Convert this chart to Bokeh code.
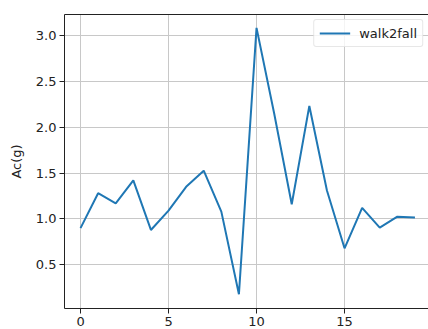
from bokeh.plotting import figure
from bokeh.models import Range1d, FixedTicker, Legend, LegendItem, NumeralTickFormatter, LinearAxis
from bokeh.embed import file_html
from bokeh.resources import INLINE

x_vals = list(range(20))
walk2fall = [0.90, 1.28, 1.17, 1.42, 0.88, 1.09, 1.35, 1.525, 1.08, 0.18,
             3.08, 2.15, 1.16, 2.23, 1.31, 0.68, 1.12, 0.905, 1.025, 1.015]
x_ticks = [0, 5, 10, 15]
y_ticks = [0.5, 1.0, 1.5, 2.0, 2.5, 3.0]
series_name = "walk2fall"
y_label = "Ac(g)"

FONT = "DejaVu Sans"
INK = "#222222"

p = figure(width=428, height=329, output_backend="svg", toolbar_location=None,
           x_range=Range1d(-0.91, 19.77), y_range=Range1d(0.025, 3.2255),
           min_border_left=64, min_border_right=0, min_border_top=14, min_border_bottom=21)

r = p.line(x_vals, walk2fall, line_color="#1f77b4", line_width=2)

for ax in (p.xaxis[0], p.yaxis[0]):
    ax.major_tick_in = 0
    ax.major_tick_out = 5
    ax.minor_tick_line_color = None
    ax.major_label_text_font = FONT
    ax.major_label_text_font_size = "13px"
    ax.major_label_text_color = INK
    ax.axis_line_color = INK
    ax.major_tick_line_color = INK
    ax.major_label_standoff = 3

p.xaxis.ticker = FixedTicker(ticks=x_ticks)
p.yaxis.ticker = FixedTicker(ticks=y_ticks)
p.yaxis.formatter = NumeralTickFormatter(format="0.0")
p.yaxis.axis_label = y_label
p.yaxis.axis_label_text_font = FONT
p.yaxis.axis_label_text_font_size = "13px"
p.yaxis.axis_label_text_font_style = "normal"
p.yaxis.axis_label_text_color = INK
p.yaxis.axis_label_standoff = 9

# top spine only (the right spine lies outside the cropped view)
top_axis = LinearAxis(ticker=FixedTicker(ticks=[]), axis_line_color=INK,
                      major_tick_line_color=None, minor_tick_line_color=None)
p.add_layout(top_axis, "above")
p.outline_line_color = None

p.xgrid.ticker = FixedTicker(ticks=x_ticks)
p.ygrid.ticker = FixedTicker(ticks=y_ticks)
p.grid.grid_line_color = "#c8c8c8"
p.grid.grid_line_width = 1

legend = Legend(items=[LegendItem(label=series_name, renderers=[r])],
                location="top_right")
legend.label_text_font = FONT
legend.label_text_font_size = "13px"
legend.label_text_color = INK
legend.glyph_width = 31
legend.glyph_height = 16
legend.label_height = 16
legend.label_standoff = 9
legend.padding = 5
legend.margin = 5
legend.border_line_color = "#d0d0d0"
legend.border_radius = 3
legend.background_fill_alpha = 0.8
p.add_layout(legend)

open("out.html", "w").write(file_html(p, INLINE))
